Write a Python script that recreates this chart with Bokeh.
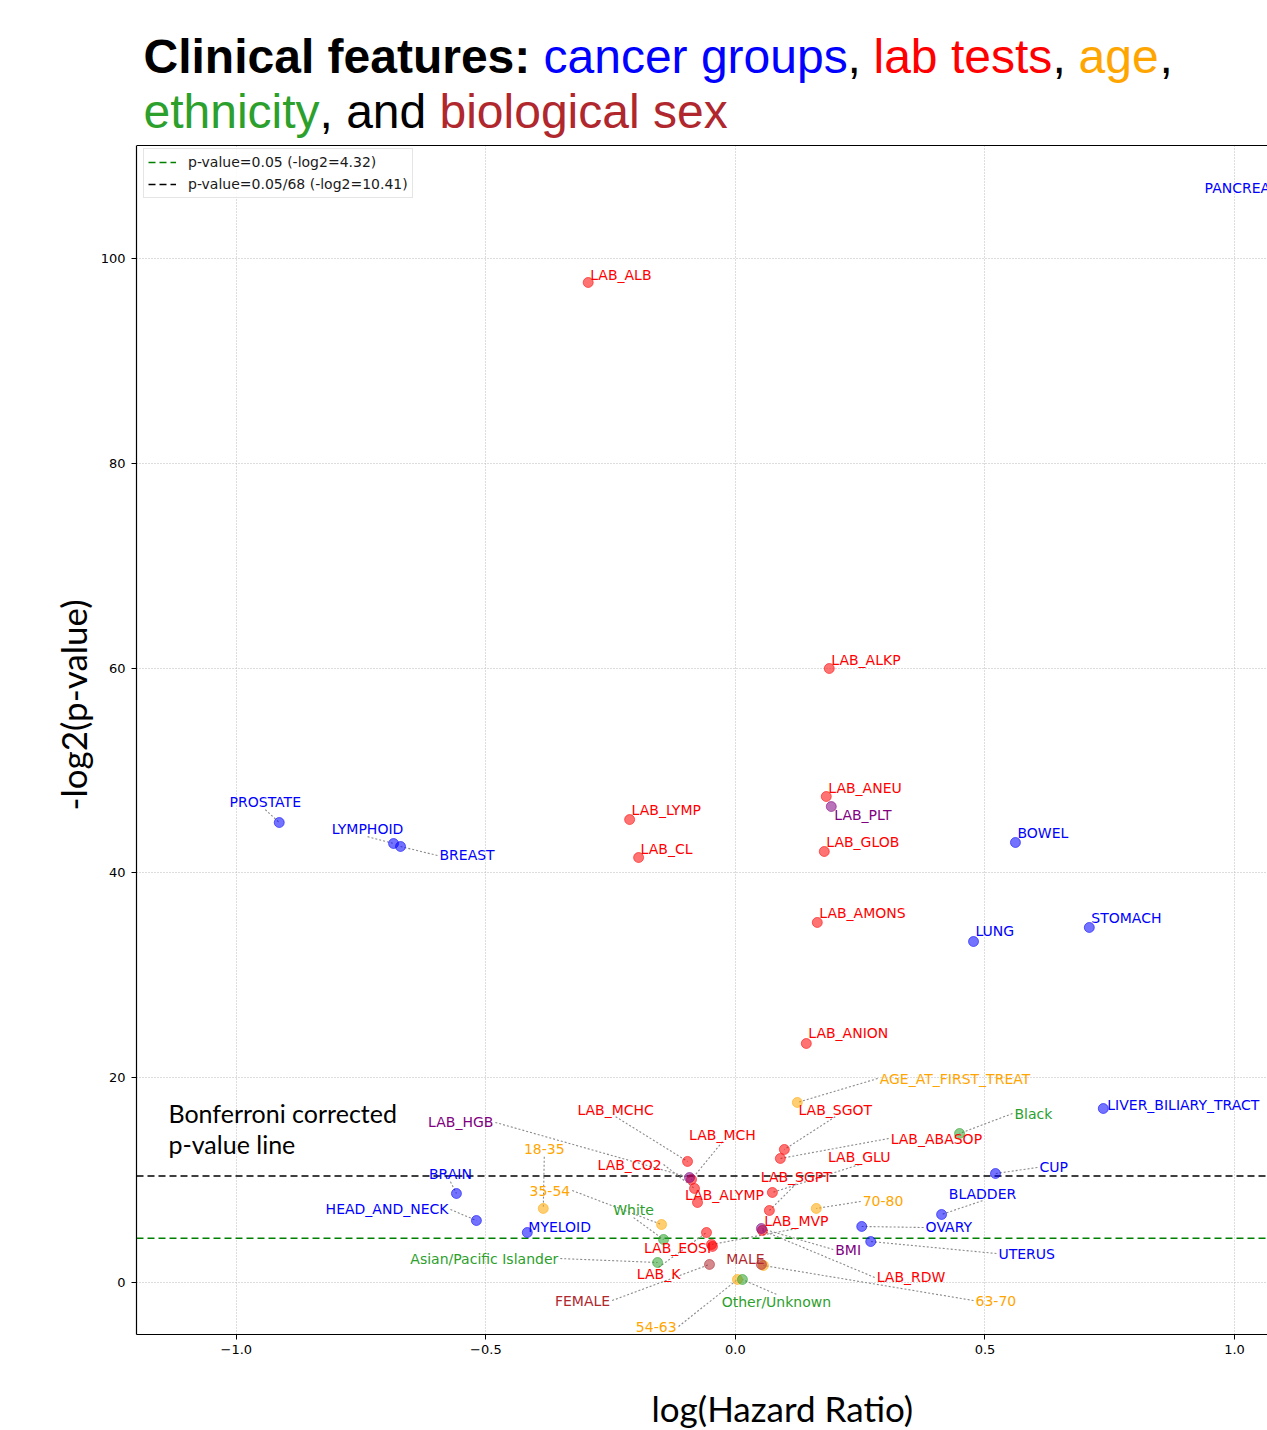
import math
from bokeh.plotting import figure
from bokeh.layouts import column
from bokeh.models import (Range1d, FixedTicker, Label, Legend, LegendItem,
                          ColumnDataSource, Span, Title, BoxAnnotation)
from bokeh.core.properties import value
from bokeh.embed import file_html
from bokeh.resources import INLINE

# ---- data: clinical features, log hazard ratio and -log2(p-value) ----
features = [
    "PANCREAS", "PROSTATE", "LYMPHOID", "BREAST", "BOWEL", "LUNG", "STOMACH",
    "LIVER_BILIARY_TRACT", "CUP", "BLADDER", "OVARY", "UTERUS", "BRAIN",
    "HEAD_AND_NECK", "MYELOID",
    "LAB_ALB", "LAB_ALKP", "LAB_ANEU", "LAB_GLOB", "LAB_AMONS", "LAB_ANION",
    "LAB_LYMP", "LAB_CL", "LAB_MCHC", "LAB_MCH", "LAB_CO2", "LAB_ALYMP",
    "LAB_SGOT", "LAB_ABASOP", "LAB_GLU", "LAB_SGPT", "LAB_MVP", "LAB_EOSI",
    "LAB_K", "LAB_RDW",
    "LAB_PLT", "LAB_HGB", "BMI",
    "AGE_AT_FIRST_TREAT", "18-35", "35-54", "54-63", "63-70", "70-80",
    "Black", "White", "Asian/Pacific Islander", "Other/Unknown",
    "MALE", "FEMALE",
]
log_hr = [
    1.20, -0.914, -0.685, -0.671, 0.561, 0.477, 0.709,
    0.737, 0.521, 0.413, 0.253, 0.271, -0.559,
    -0.519, -0.417,
    -0.295, 0.188, 0.182, 0.178, 0.164, 0.142,
    -0.212, -0.194, -0.096, -0.088, -0.082, -0.076,
    0.098, 0.090, 0.074, 0.068, -0.048, -0.046,
    -0.058, 0.054,
    0.192, -0.092, 0.052,
    0.124, -0.385, -0.148, 0.004, 0.056, 0.162,
    0.449, -0.144, -0.156, 0.014,
    0.052, -0.052,
]
neg_log2_p = [
    106.0, 44.92, 42.87, 42.58, 42.97, 33.30, 34.67,
    16.99, 10.64, 6.64, 5.47, 4.00, 8.69,
    6.05, 4.88,
    97.66, 59.96, 47.46, 42.09, 35.16, 23.34,
    45.21, 41.50, 11.82, 10.06, 9.18, 7.81,
    12.99, 12.11, 8.79, 7.03, 3.71, 3.52,
    4.88, 5.08,
    46.48, 10.25, 5.27,
    17.58, 7.23, 5.66, 0.29, 1.66, 7.23,
    14.55, 4.20, 1.95, 0.29,
    1.76, 1.76,
]
groups = (["cancer"] * 15 + ["lab"] * 20 + ["other"] * 3 + ["age"] * 6
          + ["ethnicity"] * 4 + ["sex"] * 2)

P_05 = 4.32      # -log2(0.05)
P_BONF = 10.41   # -log2(0.05/68)

# ---- label placement (data units) ----
label_x = [
    0.940, -0.942, -0.737, -0.593, 0.565, 0.481, 0.713,
    0.745, 0.609, 0.495, 0.381, 0.527, -0.571,
    -0.575, -0.415,
    -0.291, 0.192, 0.186, 0.182, 0.168, 0.146,
    -0.208, -0.190, -0.240, -0.026, -0.148, -0.022,
    0.200, 0.311, 0.248, 0.122, 0.122, -0.116,
    -0.154, 0.283,
    0.198, -0.485, 0.200,
    0.289, -0.383, -0.331, -0.118, 0.481, 0.255,
    0.559, -0.204, -0.355, 0.082,
    0.020, -0.251,
]
label_y = [
    106.93, 46.88, 44.24, 41.70, 43.85, 34.28, 35.55,
    17.38, 11.23, 8.69, 5.37, 2.83, 10.55,
    7.13, 5.37,
    98.44, 60.84, 48.34, 42.97, 36.04, 24.32,
    46.19, 42.38, 16.89, 14.45, 11.52, 8.59,
    16.89, 14.06, 12.21, 10.35, 5.96, 3.32,
    0.78, 0.49,
    45.70, 15.63, 3.22,
    19.92, 12.99, 8.98, -4.30, -1.76, 7.91,
    16.50, 7.03, 2.34, -1.86,
    2.25, -1.76,
]
label_align = [
    "left", "center", "center", "left", "left", "left", "left",
    "left", "left", "center", "left", "left", "center",
    "right", "left",
    "left", "left", "left", "left", "left", "left",
    "left", "left", "center", "center", "right", "center",
    "center", "left", "center", "center", "center", "center",
    "center", "left",
    "left", "right", "left",
    "left", "center", "right", "right", "left", "left",
    "left", "center", "right", "center",
    "center", "right",
]
leader = [
    0, 1, 1, 1, 0, 0, 0,
    0, 1, 1, 1, 1, 1,
    1, 0,
    0, 0, 0, 0, 0, 0,
    0, 0, 1, 1, 1, 0,
    1, 1, 1, 1, 1, 0,
    1, 1,
    0, 1, 1,
    1, 1, 1, 1, 1, 1,
    1, 1, 1, 1,
    0, 1,
]

group_colors = {
    "cancer": "#0000ff", "lab": "#ff0000", "other": "#800080",
    "age": "#ffa500", "ethnicity": "#2ca02c", "sex": "#b0282e",
}

X_START, X_END = -1.2, 1.066
Y_START, Y_TOP = -5.08, 111.04      # visible axes box
Y_CANVAS_TOP = 125.2                # room above the box for the heading

x_range = Range1d(X_START, X_END)
p = figure(width=1267, height=1380, output_backend="svg", toolbar_location=None,
           x_range=x_range, y_range=Range1d(Y_START, Y_CANVAS_TOP),
           min_border_left=136, min_border_right=0, min_border_top=0,
           min_border_bottom=46)
p.outline_line_color = None
p.background_fill_color = "white"
p.border_fill_color = "white"

# grid
for g in (p.xgrid, p.ygrid):
    g.grid_line_color = "#bbbbbb"
    g.grid_line_dash = "1 2"
    g.grid_line_width = 1

# axes
p.xaxis.ticker = FixedTicker(ticks=[-1.0, -0.5, 0.0, 0.5, 1.0])
p.xaxis.major_label_overrides = {-1.0: "\u22121.0", -0.5: "\u22120.5", 0.0: "0.0",
                                 0.5: "0.5", 1.0: "1.0"}
p.yaxis.ticker = FixedTicker(ticks=[0, 20, 40, 60, 80, 100])
p.yaxis.bounds = (Y_START, Y_TOP)
for ax in (p.xaxis, p.yaxis):
    ax.axis_line_color = "black"
    ax.axis_line_width = 1.2
    ax.major_tick_out = 5
    ax.major_tick_in = 0
    ax.minor_tick_line_color = None
    ax.major_label_text_font = "DejaVu Sans"
    ax.major_label_text_font_size = "13px"
    ax.major_label_text_color = "black"
p.yaxis.major_label_standoff = 6
p.xaxis.major_label_standoff = 5

# vertical axis title
p.add_layout(Title(text="-log2(p-value)", align="left", offset=524,
                   text_font="Lato", text_font_size="35px",
                   text_font_style="normal", text_color="black", standoff=8),
             "left")

# significance thresholds
r_p05 = p.line(x=[X_START, X_END], y=[P_05, P_05], line_color="green",
               line_dash="7 4", line_width=1.5)
r_bonf = p.line(x=[X_START, X_END], y=[P_BONF, P_BONF], line_color="black",
                line_dash="7 4", line_width=1.5)

# leader lines from labels to points
lx0, ly0, lx1, ly1 = [], [], [], []
for i in range(len(features)):
    if not leader[i]:
        continue
    sx, sy = label_x[i], label_y[i]
    if label_align[i] == "center":
        sy = sy - 0.7 if neg_log2_p[i] < sy else sy + 0.7
    elif label_align[i] == "left":
        sx -= 0.004
    else:
        sx += 0.004
    lx0.append(sx); ly0.append(sy)
    lx1.append(log_hr[i]); ly1.append(neg_log2_p[i])
p.segment(x0=lx0, y0=ly0, x1=lx1, y1=ly1, line_color="#8a8a8a",
          line_dash="2 2", line_width=1.1)

# points
colors = [group_colors[g] for g in groups]
pts = ColumnDataSource(dict(x=log_hr, y=neg_log2_p, c=colors))
p.scatter(x="x", y="y", source=pts, size=10, fill_color="c", line_color="c",
          fill_alpha=0.55, line_alpha=0.55)

# labels, split by alignment
for align in ("left", "center", "right"):
    idx = [i for i in range(len(features)) if label_align[i] == align]
    src = ColumnDataSource(dict(
        x=[label_x[i] for i in idx], y=[label_y[i] for i in idx],
        t=[features[i] for i in idx], c=[colors[i] for i in idx]))
    p.text(x="x", y="y", text="t", source=src, text_color="c",
           text_align=align, text_baseline="middle",
           text_font=value("DejaVu Sans"), text_font_size="14px")

# blank band above the axes box (hides grid lines there), then its top edge
p.add_layout(BoxAnnotation(bottom=Y_TOP, fill_color="white", fill_alpha=1.0,
                           line_color=None))
p.add_layout(Span(location=Y_TOP, dimension="width", line_color="black",
                  line_width=1.2))

legend = Legend(items=[
    LegendItem(label=f"p-value=0.05 (-log2={P_05:.2f})", renderers=[r_p05]),
    LegendItem(label=f"p-value=0.05/68 (-log2={P_BONF:.2f})", renderers=[r_bonf]),
], location=(7, 1334 - 198))
legend.padding = 4
legend.spacing = 4
legend.label_height = 18
legend.glyph_height = 18
legend.glyph_width = 28
legend.label_standoff = 12
legend.label_text_font = "DejaVu Sans"
legend.label_text_font_size = "14px"
legend.label_text_color = "#1a1a1a"
legend.border_line_color = "#cccccc"
legend.border_line_width = 1
legend.background_fill_alpha = 0.85
p.add_layout(legend)

# note for the corrected threshold
p.add_layout(Label(x=-1.136, y=16.6, text="Bonferroni corrected",
                   text_font="Lato", text_font_size="25px", text_color="black",
                   text_baseline="alphabetic"))
p.add_layout(Label(x=-1.136, y=13.55, text="p-value line",
                   text_font="Lato", text_font_size="25px", text_color="black",
                   text_baseline="alphabetic"))

# multi-colour heading (screen units from the lower-left of the plotting area)
FRAME_LEFT, FRAME_BOTTOM = 136, 1334
heading = [
    ("Clinical features:", 143, 56, "black", "bold"),
    ("cancer groups", 543, 56, group_colors["cancer"], "normal"),
    (",", 847, 56, "black", "normal"),
    ("lab tests", 873, 56, group_colors["lab"], "normal"),
    (",", 1052, 56, "black", "normal"),
    ("age", 1078, 56, group_colors["age"], "normal"),
    (",", 1159, 56, "black", "normal"),
    ("ethnicity", 143, 111, group_colors["ethnicity"], "normal"),
    (", and", 319, 111, "black", "normal"),
    ("biological sex", 439, 111, group_colors["sex"], "normal"),
]
for txt, cx, cy, col, style in heading:
    p.add_layout(Label(x=cx - FRAME_LEFT, y=FRAME_BOTTOM - cy, x_units="screen",
                       y_units="screen", text=txt, text_font="Liberation Sans",
                       text_font_size="48px", text_font_style=style,
                       text_color=col, text_baseline="alphabetic"))

# horizontal axis title in a strip under the chart (shares the x scale)
strip = figure(width=1267, height=50, output_backend="svg", toolbar_location=None,
               x_range=x_range, y_range=Range1d(0, 50),
               x_axis_type=None, y_axis_type=None, min_border=0,
               min_border_left=136, min_border_right=0)
strip.outline_line_color = None
strip.xgrid.visible = False
strip.ygrid.visible = False
strip.add_layout(Label(x=0.094, y=23, text="log(Hazard Ratio)", text_font="Lato",
                       text_font_size="35px", text_align="center",
                       text_baseline="middle", text_color="black"))

layout = column(p, strip, spacing=0)
open("out.html", "w").write(file_html(layout, INLINE))
